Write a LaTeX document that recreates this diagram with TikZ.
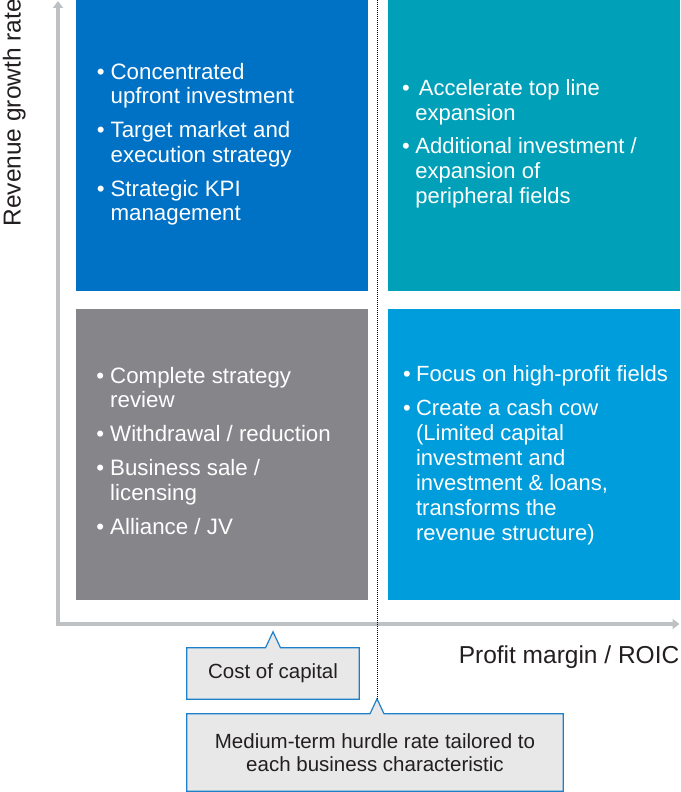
\documentclass[tikz,border=0pt]{standalone}
\usepackage{fontspec}
\setmainfont{Liberation Sans}
\usetikzlibrary{arrows.meta,calc}
\pgfdeclarelayer{bg}
\pgfsetlayers{bg,main}
\definecolor{tlblue}{RGB}{0,114,198}
\definecolor{trteal}{RGB}{0,161,184}
\definecolor{blgray}{RGB}{134,133,138}
\definecolor{brblue}{RGB}{0,157,220}
\definecolor{axisgray}{RGB}{190,193,196}
\definecolor{calloutfill}{RGB}{232,232,233}
\definecolor{calloutline}{RGB}{30,128,200}
\definecolor{textdark}{RGB}{35,31,32}
\tikzset{
  quad/.style={inner sep=0pt, minimum width=292pt, minimum height=291pt, draw=none},
  qtext/.style={anchor=base west, inner sep=0pt, text=white},
  qfont/.style={font=\fontsize{22.3}{24.5}\selectfont},
  qfontwide/.style={font=\fontsize{22}{25}\selectfont},
  axisline/.style={draw=axisgray, line width=4pt, line join=miter,
    {Triangle[width=10pt,length=7pt]}-{Triangle[width=10pt,length=7pt]}},
  calloutbox/.style={inner sep=0pt, align=center, text=textdark,
    font=\fontsize{20.5}{23.5}\selectfont},
  calloutshape/.style={fill=calloutfill, draw=calloutline, line width=1.2pt, line join=miter},
  axislabel/.style={text=textdark, font=\fontsize{24.5}{28}\selectfont, inner sep=0pt},
  hurdle/.style={draw=black, line width=0.8pt, dash pattern=on 0.8pt off 1.2pt}
}
\begin{document}
\begin{tikzpicture}[x=1pt,y=-1pt]
\useasboundingbox (0,0) rectangle (680,792);

% quadrants
\node[quad, fill=tlblue] (tl) at (222,145.5) {};
\node[quad, fill=trteal] (tr) at (534,145.5) {};
\node[quad, fill=blgray] (bl) at (222,454.5) {};
\node[quad, fill=brblue] (br) at (534,454.5) {};

% quadrant texts
\node[qtext, qfont] (tltext) at (96.6,79) {\begin{tabular}[t]{@{}l@{\hspace{6pt}}l@{}}
•&Concentrated\\ &upfront investment\\[9.5pt]
•&Target market and\\ &execution strategy\\[9.5pt]
•&Strategic KPI\\ &management
\end{tabular}};

\node[qtext, qfontwide] (trtext) at (402,95) {\begin{tabular}[t]{@{}l@{\hspace{5.5pt}}l@{}}
•&\hspace{3.5pt}Accelerate top line\\ &expansion\\[8.3pt]
•&Additional investment /\\ &expansion of\\ &peripheral fields
\end{tabular}};

\node[qtext, qfont] (bltext) at (96.2,383.3) {\begin{tabular}[t]{@{}l@{\hspace{6pt}}l@{}}
•&Complete strategy\\ &review\\[9.5pt]
•&Withdrawal / reduction\\[9.5pt]
•&Business sale /\\ &licensing\\[9.5pt]
•&Alliance / JV
\end{tabular}};

\node[qtext, qfontwide] (brtext) at (402.8,381) {\begin{tabular}[t]{@{}l@{\hspace{5.4pt}}l@{}}
•&Focus on high-profit fields\\[9pt]
•&Create a cash cow\\ &(Limited capital\\ &investment and\\ &investment \& loans,\\ &transforms the\\ &revenue structure)
\end{tabular}};

% axes
\coordinate (yend) at (58,1);
\coordinate (origin) at (58,624);
\coordinate (xend) at (679.5,624);
\draw[axisline] (yend) -- (origin) -- (xend);

\node[axislabel, anchor=base east] (xlab) at (679.5,663.3) {Profit margin / ROIC};
\node[axislabel, rotate=90, anchor=base west] (ylab) at (20.7,226.7) {Revenue growth rate};

% callouts
\node[calloutbox, minimum width=172pt, minimum height=51pt] (coc) at (273,673.5) {Cost of capital};
\node[calloutbox, minimum width=376pt, minimum height=77pt] (mtr) at (375,752.5) {Medium-term hurdle rate tailored to\\each business characteristic};

\coordinate (coctip) at ($(coc.north)+(0,-16)$);
\coordinate (mtrtip) at ($(mtr.north)+(2,-15)$);

\begin{pgfonlayer}{bg}
\draw[calloutshape] (coc.north west) -- ($(coc.north)+(-7.5,0)$) -- (coctip)
  -- ($(coc.north)+(7.5,0)$) -- (coc.north east) -- (coc.south east) -- (coc.south west) -- cycle;
\draw[calloutshape] (mtr.north west) -- ($(mtr.north)+(-5,0)$) -- (mtrtip)
  -- ($(mtr.north)+(9,0)$) -- (mtr.north east) -- (mtr.south east) -- (mtr.south west) -- cycle;
\end{pgfonlayer}

% hurdle line
\coordinate (dtop) at (377,0);
\draw[hurdle] (dtop) -- (mtrtip);
\end{tikzpicture}
\end{document}
